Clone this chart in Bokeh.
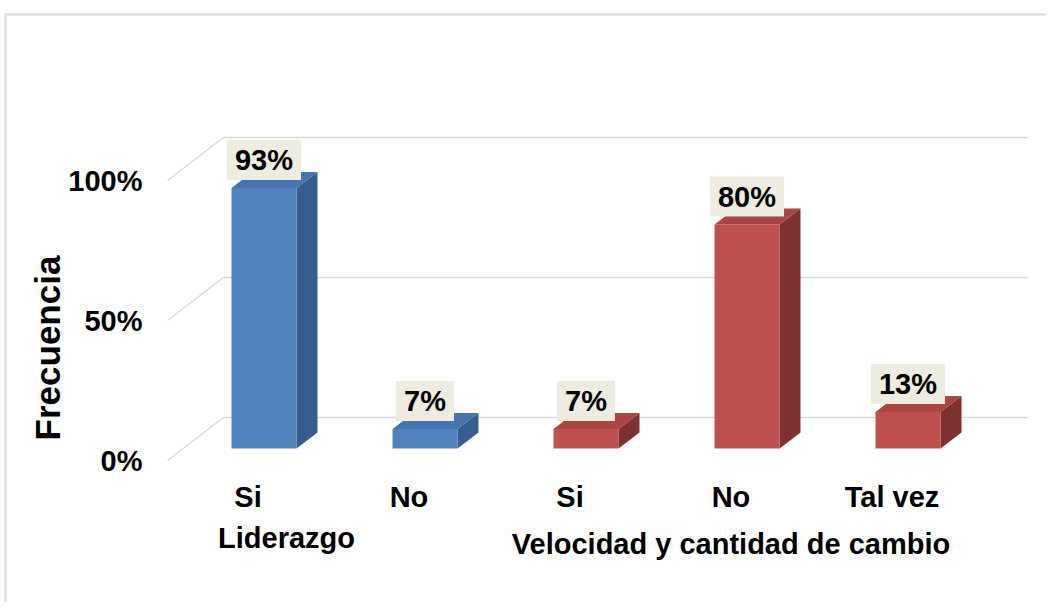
import math
from bokeh.plotting import figure
from bokeh.models import Range1d, ColumnDataSource
from bokeh.core.properties import value
from bokeh.embed import file_html
from bokeh.resources import INLINE

# ---------------- data ----------------
categories = ["Si", "No", "Si", "No", "Tal vez"]
group_names = ["Liderazgo", "Velocidad y cantidad de cambio"]
group_index = [0, 0, 1, 1, 1]
values = [93, 7, 7, 80, 13]
value_labels = ["93%", "7%", "7%", "80%", "13%"]
y_ticks = [0, 50, 100]
y_tick_labels = ["0%", "50%", "100%"]

# ---------------- layout / style ----------------
W, H = 1046, 602
KX = 161.0          # px per category
KY = 2.8            # px per percent
X0, Y0 = 167.0, 460.0   # pixel position of data origin (front-left floor corner)


def px2x(px):
    return (px - X0) / KX


def py2y(py):
    return (Y0 - py) / KY


# 3D geometry (px converted to data units)
floor_dx, floor_dy = 56 / KX, 43 / KY
bar_ox, bar_oy = 16 / KX, 12 / KY
bar_dx, bar_dy = 21 / KX, 16 / KY
bar_w = 65 / KX
x_end = px2x(1028)

front_cols = ["#4F81BD", "#C0504D"]
top_cols = ["#4573AD", "#AA4542"]
side_cols = ["#365D8D", "#7F3130"]
grid_col = "#D9D9D9"
FONT = value("Liberation Sans")

p = figure(width=W, height=H, output_backend="svg", toolbar_location=None,
           x_range=Range1d(px2x(0), px2x(W)), y_range=Range1d(py2y(H), py2y(0)),
           min_border=0, background_fill_color="white",
           border_fill_color="white", outline_line_color=None)
p.xaxis.visible = False
p.yaxis.visible = False
p.xgrid.visible = False
p.ygrid.visible = False
p.title.visible = False

# chart-area border (left and top)
p.line([px2x(5), px2x(5), px2x(W + 10)], [py2y(H + 10), py2y(14), py2y(14)],
       line_color=grid_col, line_width=2)

# gridlines: back wall + slanted side wall
for t in y_ticks:
    p.line([floor_dx, x_end], [t + floor_dy, t + floor_dy], line_color=grid_col, line_width=1.5)
    p.line([0, floor_dx], [t, t + floor_dy], line_color=grid_col, line_width=1.5)

# y tick labels
p.text(x=[px2x(142)] * len(y_ticks), y=y_ticks, text=y_tick_labels,
       text_font=FONT, text_font_style="bold", text_font_size="29px",
       text_color="black", text_align="right", text_baseline="middle")

# bars
cat_x = [i + 0.5 for i in range(len(categories))]
fx, fy, fc = [], [], []
tx, ty, tc = [], [], []
sx, sy, sc = [], [], []
for i, v in enumerate(values):
    g = group_index[i]
    xl = cat_x[i] - bar_w / 2 + bar_ox
    xr = cat_x[i] + bar_w / 2 + bar_ox
    y0 = bar_oy
    y1 = bar_oy + v
    fx.append([xl, xr, xr, xl]); fy.append([y0, y0, y1, y1]); fc.append(front_cols[g])
    tx.append([xl, xr, xr + bar_dx, xl + bar_dx]); ty.append([y1, y1, y1 + bar_dy, y1 + bar_dy]); tc.append(top_cols[g])
    sx.append([xr, xr + bar_dx, xr + bar_dx, xr]); sy.append([y0, y0 + bar_dy, y1 + bar_dy, y1]); sc.append(side_cols[g])
p.patches(sx, sy, fill_color=sc, line_color=None)
p.patches(tx, ty, fill_color=tc, line_color=None)
p.patches(fx, fy, fill_color=fc, line_color=None)

# category labels
p.text(x=cat_x, y=[py2y(496)] * len(categories), text=categories,
       text_font=FONT, text_font_style="bold", text_font_size="29px",
       text_color="black", text_align="center", text_baseline="middle")

# data labels
lab_src = ColumnDataSource(dict(
    x=[c + bar_ox for c in cat_x],
    y=[bar_oy + v + 28 / KY for v in values],
    text=value_labels))
p.text(x="x", y="y", text="text", source=lab_src,
       text_font=FONT, text_font_style="bold", text_font_size="29px",
       text_color="black", text_align="center", text_baseline="middle",
       background_fill_color="#EEECE1",
       padding=dict(left=8, right=8, top=4, bottom=4))

# group labels
grp_x = [px2x(286), sum(c for c, g in zip(cat_x, group_index) if g == 1) / 3]
grp_y = [py2y(537), py2y(543)]
p.text(x=grp_x, y=grp_y, text=group_names,
       text_font=FONT, text_font_style="bold", text_font_size="29px",
       text_color="black", text_align="center", text_baseline="middle")

# axis title
p.text(x=[px2x(47)], y=[py2y(347.5)], text=["Frecuencia"], angle=math.pi / 2,
       text_font=FONT, text_font_style="bold", text_font_size="35px",
       text_color="black", text_align="center", text_baseline="middle")

open("out.html", "w").write(file_html(p, INLINE))
